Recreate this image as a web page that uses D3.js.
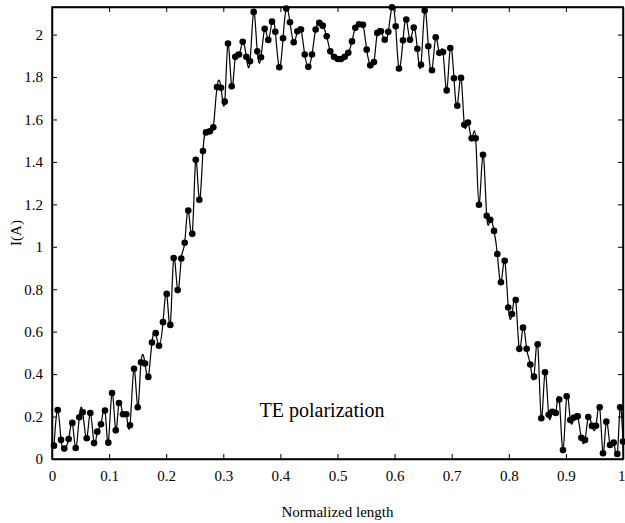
<!DOCTYPE html>
<html>
<head>
<meta charset="utf-8">
<script src="https://cdn.jsdelivr.net/npm/d3@7"></script>
<style>
  body { margin: 0; background: #fff; }
  svg text { font-family: "Liberation Serif", "Times New Roman", serif; }
</style>
</head>
<body>
<script>
// normalized position of each sample
var xVals = [0.0035,0.0100,0.0158,0.0215,0.0292,0.0356,0.0415,0.0478,0.0538,0.0608,
  0.0671,0.0736,0.0793,0.0858,0.0928,0.0986,0.1051,0.1116,0.1173,0.1243,
  0.1301,0.1366,0.1436,0.1501,0.1559,0.1629,0.1687,0.1751,0.1816,0.1874,
  0.1944,0.2009,0.2072,0.2131,0.2201,0.2264,0.2324,0.2387,0.2457,0.2517,
  0.2580,0.2644,0.2697,0.2762,0.2825,0.2890,0.2960,0.3025,0.3082,0.3147,
  0.3210,0.3275,0.3340,0.3403,0.3468,0.3532,0.3595,0.3660,0.3725,0.3788,
  0.3853,0.3911,0.3981,0.4046,0.4103,0.4168,0.4233,0.4296,0.4361,0.4426,
  0.4489,0.4553,0.4618,0.4681,0.4741,0.4811,0.4874,0.4939,0.5004,0.5061,
  0.5126,0.5189,0.5254,0.5312,0.5377,0.5447,0.5511,0.5574,0.5639,0.5697,
  0.5762,0.5827,0.5890,0.5954,0.6019,0.6077,0.6147,0.6205,0.6270,0.6335,
  0.6398,0.6462,0.6527,0.6590,0.6655,0.6720,0.6783,0.6848,0.6912,0.6975,
  0.7040,0.7098,0.7163,0.7221,0.7285,0.7350,0.7420,0.7478,0.7548,0.7613,
  0.7676,0.7741,0.7799,0.7863,0.7928,0.7991,0.8056,0.8121,0.8184,0.8249,
  0.8313,0.8377,0.8441,0.8506,0.8569,0.8634,0.8699,0.8762,0.8821,0.8884,
  0.8949,0.9014,0.9077,0.9142,0.9207,0.9270,0.9335,0.9392,0.9457,0.9527,
  0.9592,0.9650,0.9708,0.9772,0.9837,0.9900,0.9950,1.0000];

// current I(A)
var iVals = [0.063,0.231,0.090,0.049,0.094,0.170,0.052,0.197,0.220,0.098,
  0.217,0.075,0.129,0.164,0.228,0.077,0.311,0.135,0.264,0.211,
  0.211,0.159,0.425,0.244,0.456,0.450,0.387,0.549,0.593,0.534,
  0.645,0.778,0.632,0.947,0.796,0.945,1.019,1.171,1.061,1.410,
  1.222,1.451,1.539,1.544,1.563,1.753,1.749,1.684,1.958,1.756,
  1.895,1.906,1.966,1.895,1.874,2.107,1.921,1.893,2.027,1.975,
  2.061,2.013,1.846,1.983,2.123,2.058,1.964,2.016,2.024,1.906,
  1.848,1.906,2.024,2.055,2.042,1.992,1.921,1.895,1.885,1.885,
  1.895,1.914,1.968,2.032,2.049,2.046,1.929,1.855,1.871,2.008,
  2.016,1.976,2.013,2.129,2.039,1.840,1.973,2.071,1.976,2.033,
  1.933,1.858,2.113,1.945,1.832,1.987,1.914,1.918,1.737,1.937,
  1.794,1.665,1.796,1.575,1.586,1.511,1.511,1.198,1.434,1.146,
  1.127,1.075,0.966,0.833,0.934,0.714,0.683,0.749,0.519,0.619,
  0.519,0.445,0.388,0.541,0.192,0.409,0.208,0.223,0.217,0.280,
  0.042,0.296,0.184,0.195,0.201,0.100,0.090,0.198,0.156,0.157,
  0.244,0.027,0.176,0.066,0.077,0.024,0.244,0.082];

var xTicks = [0,0.1,0.2,0.3,0.4,0.5,0.6,0.7,0.8,0.9,1];
var yTicks = [0,0.2,0.4,0.6,0.8,1,1.2,1.4,1.6,1.8,2];

var data = xVals.map(function(x, i){ return {x: x, y: iVals[i]}; });

var margin = {top: 7, right: 2, bottom: 64, left: 52},
    width = 625 - margin.left - margin.right,
    height = 523 - margin.top - margin.bottom;

var svg = d3.select("body").append("svg")
    .attr("width", 625)
    .attr("height", 523)
  .append("g")
    .attr("transform", "translate(" + margin.left + "," + margin.top + ")");

var xScale = d3.scaleLinear().domain([0, 1]).range([0, width]);
var yScale = d3.scaleLinear().domain([0, 2.13]).range([height, 0]);

var fmt = function(d){ return d3.format("~g")(d); };

// axes with inward ticks on all four sides
svg.append("g")
    .attr("class", "x axis")
    .attr("transform", "translate(0," + height + ")")
    .call(d3.axisBottom(xScale).tickValues(xTicks).tickSizeInner(-5).tickSizeOuter(0).tickPadding(11).tickFormat(fmt));

svg.append("g")
    .call(d3.axisTop(xScale).tickValues(xTicks).tickSizeInner(-5).tickSizeOuter(0).tickFormat(""));

svg.append("g")
    .attr("class", "y axis")
    .call(d3.axisLeft(yScale).tickValues(yTicks).tickSizeInner(-5).tickSizeOuter(0).tickPadding(9).tickFormat(fmt));

svg.append("g")
    .attr("transform", "translate(" + width + ",0)")
    .call(d3.axisRight(yScale).tickValues(yTicks).tickSizeInner(-5).tickSizeOuter(0).tickFormat(""));

svg.selectAll(".domain").attr("stroke", "#000").attr("stroke-width", 1.5);
svg.selectAll(".tick line").attr("stroke", "#000");
svg.selectAll(".tick text").attr("font-size", 15).attr("fill", "#000")
    .style("font-family", "'Liberation Serif', serif");

// keep the last x label inside the window
svg.select(".x.axis").selectAll(".tick text")
    .filter(function(d){ return d === 1; })
    .attr("text-anchor", "end").attr("dx", 2);

// frame
svg.append("rect")
    .attr("width", width)
    .attr("height", height)
    .attr("fill", "none")
    .attr("stroke", "#000")
    .attr("stroke-width", 1.5);

svg.append("clipPath").attr("id", "clip")
  .append("rect").attr("width", width).attr("height", height);

var line = d3.line()
    .x(function(d){ return xScale(d.x); })
    .y(function(d){ return yScale(d.y); })
    .curve(d3.curveNatural);

svg.append("path")
    .datum(data)
    .attr("clip-path", "url(#clip)")
    .attr("fill", "none")
    .attr("stroke", "#000")
    .attr("stroke-width", 1.2)
    .attr("d", line);

svg.selectAll("circle")
    .data(data)
    .enter()
    .append("circle")
    .attr("r", 3.3)
    .attr("fill", "#000")
    .attr("cx", function(d){ return xScale(d.x); })
    .attr("cy", function(d){ return yScale(d.y); });

svg.append("text")
    .attr("x", xScale(0.473))
    .attr("y", yScale(0.198))
    .attr("text-anchor", "middle")
    .attr("font-size", 20)
    .text("TE polarization");

svg.append("text")
    .attr("x", width / 2)
    .attr("y", height + 58)
    .attr("text-anchor", "middle")
    .attr("font-size", 15)
    .text("Normalized length");

svg.append("text")
    .attr("transform", "translate(" + (-31) + "," + (height / 2) + ") rotate(-90)")
    .attr("text-anchor", "middle")
    .attr("font-size", 15)
    .text("I(A)");
</script>
</body>
</html>
